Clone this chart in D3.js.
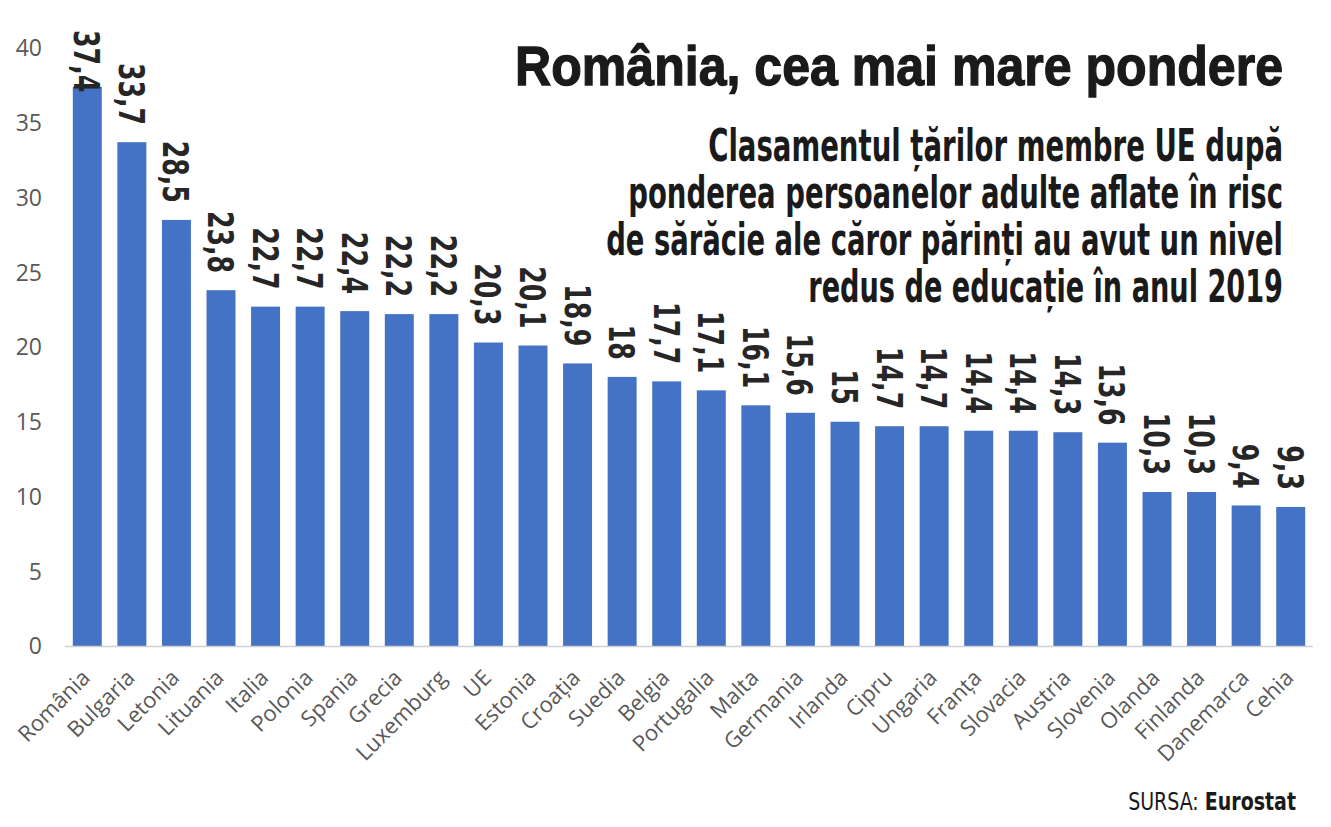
<!DOCTYPE html>
<html>
<head>
<meta charset="utf-8">
<script src="https://cdn.jsdelivr.net/npm/d3@7"></script>
<style>
  body { margin: 0; background: #fff; }
  svg { display: block; }
  .narrow { font-family: "DejaVu Sans Condensed", "DejaVu Sans", sans-serif; }
</style>
</head>
<body>
<svg id="chart" width="1331" height="827"></svg>
<script>
const countries = ["România", "Bulgaria", "Letonia", "Lituania", "Italia", "Polonia", "Spania", "Grecia",
    "Luxemburg", "UE", "Estonia", "Croația", "Suedia", "Belgia", "Portugalia", "Malta", "Germania",
    "Irlanda", "Cipru", "Ungaria", "Franța", "Slovacia", "Austria", "Slovenia", "Olanda", "Finlanda",
    "Danemarca", "Cehia"];
const values = [37.4, 33.7, 28.5, 23.8, 22.7, 22.7, 22.4, 22.2, 22.2, 20.3, 20.1, 18.9, 18, 17.7, 17.1,
    16.1, 15.6, 15, 14.7, 14.7, 14.4, 14.4, 14.3, 13.6, 10.3, 10.3, 9.4, 9.3];
const y_ticks = [0, 5, 10, 15, 20, 25, 30, 35, 40];
const title = "România, cea mai mare pondere";
const subtitle_lines = [
    "Clasamentul țărilor membre UE după",
    "ponderea persoanelor adulte aflate în risc",
    "de sărăcie ale căror părinți au avut un nivel",
    "redus de educație în anul 2019"
];
const subtitle_widths = [575, 655, 677, 475];

const svg = d3.select("#chart");
const data = countries.map((c, i) => ({ name: c, value: values[i] }));

// squeeze a right-anchored text horizontally to a given width
function squeeze(sel, width) {
    sel.each(function(d, i) {
        const target = typeof width === "function" ? width(d, i) : width;
        const sx = target / this.getComputedTextLength();
        const tx = +this.getAttribute("x");
        this.setAttribute("transform", `translate(${tx},0) scale(${sx},1) translate(${-tx},0)`);
    });
}

const x = d3.scaleBand()
    .domain(countries)
    .range([65, 1313])
    .paddingInner(0.35)
    .paddingOuter(0.175);

const y = d3.scaleLinear()
    .domain([0, 40])
    .range([646, 48]);

// y axis labels (no axis line, no ticks)
svg.append("g")
    .selectAll("text")
    .data(y_ticks)
    .join("text")
    .attr("x", 42)
    .attr("y", d => y(d))
    .attr("dy", "0.36em")
    .attr("text-anchor", "end")
    .style("font-family", "'Open Sans', 'Noto Sans', sans-serif")
    .style("font-size", "23px")
    .attr("fill", "#595959")
    .text(d => d);

// bars
svg.append("g")
    .selectAll("rect")
    .data(data)
    .join("rect")
    .attr("x", d => x(d.name))
    .attr("y", d => y(d.value))
    .attr("width", x.bandwidth())
    .attr("height", d => y(0) - y(d.value))
    .attr("fill", "#4472C4");

// baseline
svg.append("line")
    .attr("x1", 65).attr("x2", 1313)
    .attr("y1", y(0) + 0.5).attr("y2", y(0) + 0.5)
    .attr("stroke", "#d0d0d0")
    .attr("stroke-width", 1.5);

// category labels, rotated
svg.append("g")
    .selectAll("text")
    .data(data)
    .join("text")
    .attr("transform", d => `translate(${x(d.name) + x.bandwidth() / 2 - 7},${y(0) + 22}) rotate(-45)`)
    .attr("dy", "0.72em")
    .attr("text-anchor", "end")
    .style("font-family", "'Open Sans', 'Noto Sans', sans-serif")
    .style("font-size", "22px")
    .attr("fill", "#595959")
    .text(d => d.name);

// value labels, rotated 90 (reading downward)
const fmt = v => String(v).replace(".", ",");
const label_squeeze = 0.78;
const labels = svg.append("g")
    .selectAll("text")
    .data(data)
    .join("text")
    .attr("class", "narrow")
    .attr("text-anchor", "end")
    .attr("dy", "0.36em")
    .style("font-size", "36px")
    .style("font-weight", "bold")
    .attr("fill", "#262626")
    .text(d => fmt(d.value));

labels.each(function(d) {
    const len = this.getComputedTextLength() * label_squeeze;
    let end = y(d.value) - 17;
    if (end - len < 30) end = 30 + len;   // keep the label inside the picture
    d3.select(this).attr("transform",
        `translate(${x(d.name) + x.bandwidth() / 2},${end}) rotate(90) scale(${label_squeeze},1)`);
});

// title
svg.append("text")
    .attr("x", 1283)
    .attr("y", 85)
    .attr("text-anchor", "end")
    .style("font-family", "'Liberation Sans', Arial, sans-serif")
    .style("font-size", "56px")
    .style("font-weight", "bold")
    .attr("fill", "#1a1a1a")
    .attr("stroke", "#1a1a1a")
    .attr("stroke-width", 1.3)
    .text(title)
    .call(squeeze, 768);

// subtitle
svg.append("g")
    .selectAll("text")
    .data(subtitle_lines)
    .join("text")
    .attr("class", "narrow")
    .attr("x", 1283)
    .attr("y", (d, i) => 161 + i * 47)
    .attr("text-anchor", "end")
    .style("font-size", "44px")
    .style("font-weight", "bold")
    .attr("fill", "#1a1a1a")
    .text(d => d)
    .call(squeeze, (d, i) => subtitle_widths[i]);

// source
const src = svg.append("text")
    .attr("class", "narrow")
    .attr("x", 1296)
    .attr("y", 810)
    .attr("text-anchor", "end")
    .style("font-size", "25px")
    .attr("fill", "#1a1a1a");
src.append("tspan").text("SURSA: ");
src.append("tspan").style("font-weight", "bold").text("Eurostat");
src.call(squeeze, 168);
</script>
</body>
</html>
